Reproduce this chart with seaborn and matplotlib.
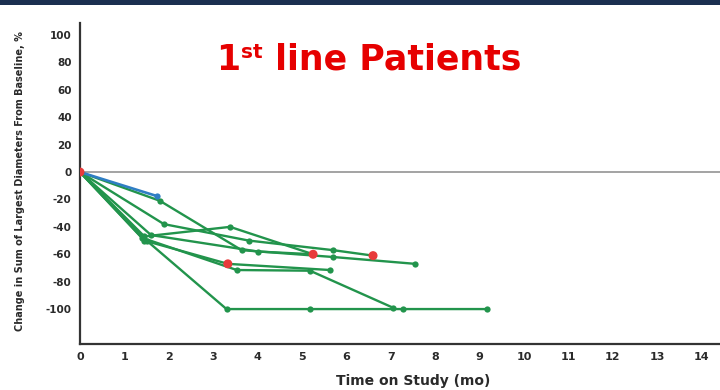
import matplotlib
matplotlib.use("Agg")
import matplotlib.pyplot as plt
from matplotlib.patches import Rectangle
import seaborn as sns
import pandas as pd

# ---------------- data ----------------
blue_months = [0, 1.73]
blue_change = [0, -17.5]

pa_months = [0, 1.80, 3.64, 5.70, 7.55]
pa_change = [0, -21, -57, -62, -67]
pb_months = [0, 1.89, 3.80, 5.70, 6.60]
pb_change = [0, -38, -50, -57, -61]
pc_months = [0, 1.45, 3.38, 5.25]
pc_change = [0, -47, -40, -60]
pd_months = [0, 1.60, 4.00, 5.25]
pd_change = [0, -46, -58, -60]
pe_months = [0, 1.45, 3.33, 5.63]
pe_change = [0, -50, -67, -71.5]
pf_months = [0, 1.40, 3.53, 5.18, 7.05]
pf_change = [0, -48, -71.5, -72, -99]
pg_months = [0, 1.50, 3.30, 5.18, 7.27, 9.16]
pg_change = [0, -50, -100, -100, -100, -100]

red_months = [0, 3.33, 5.25, 6.60]
red_change = [0, -67, -60, -61]

x_ticks = list(range(0, 15))
y_ticks = list(range(-100, 101, 20))

title_main = "1"
title_sup = "st"
title_rest = " line Patients"
x_label = "Time on Study (mo)"
y_label = "Change in Sum of Largest Diameters From Baseline, %"

# ---------------- build tables ----------------
green_series = {
    "A": (pa_months, pa_change), "B": (pb_months, pb_change),
    "C": (pc_months, pc_change), "D": (pd_months, pd_change),
    "E": (pe_months, pe_change), "F": (pf_months, pf_change),
    "G": (pg_months, pg_change),
}
rows = []
for pid, (ms, cs) in green_series.items():
    for m, c in zip(ms, cs):
        rows.append({"patient": pid, "month": m, "change": c})
df_green = pd.DataFrame(rows)
df_blue = pd.DataFrame({"patient": "blue", "month": blue_months, "change": blue_change})
df_red = pd.DataFrame({"month": red_months, "change": red_change})

# ---------------- style ----------------
sns.set_style("white")
plt.rcParams["font.family"] = ["DejaVu Sans"]
plt.rcParams["font.weight"] = "bold"
plt.rcParams["axes.unicode_minus"] = False

GREEN = "#22944c"
BLUE = "#2f7ec4"
RED = "#e83a3a"
TXT = "#2a2a2a"

W, H = 720, 390
fig = plt.figure(figsize=(W / 100, H / 100), dpi=100)
fig.patch.set_facecolor("white")

ax_left, ax_right, ax_top, ax_bottom = 80, 720, 23, 344
ax = fig.add_axes([ax_left / W, 1 - ax_bottom / H, (ax_right - ax_left) / W, (ax_bottom - ax_top) / H])
ax.set_facecolor("white")

ax.axhline(0, color="#a3a3a3", lw=1.4, zorder=1)

sns.lineplot(data=df_green, x="month", y="change", units="patient", estimator=None,
             sort=False, color=GREEN, lw=1.7, marker="o", markersize=4.5,
             markeredgewidth=0, legend=False, ax=ax, zorder=3)
sns.lineplot(data=df_blue, x="month", y="change", units="patient", estimator=None,
             sort=False, color=BLUE, lw=1.9, marker="o", markersize=4.5,
             markeredgewidth=0, legend=False, ax=ax, zorder=4)
sns.scatterplot(data=df_red, x="month", y="change", color=RED, s=42,
                edgecolor="none", legend=False, ax=ax, zorder=5)

ax.set_xlim(0, (ax_right - ax_left) / 44.4)
ax.set_ylim(-125.5, 108.8)
ax.set_xticks(x_ticks)
ax.set_yticks(y_ticks)
ax.set_xlabel("")
ax.set_ylabel("")

for s in ["top", "right"]:
    ax.spines[s].set_visible(False)
for s in ["left", "bottom"]:
    ax.spines[s].set_color("#333333")
    ax.spines[s].set_linewidth(1.6)
ax.tick_params(axis="both", direction="out", length=4, width=1.2, color="#333333",
               labelcolor=TXT, pad=2)
ax.tick_params(axis="x", labelsize=8)
ax.tick_params(axis="y", labelsize=7.5)

fig.text(20 / W, 1 - 181 / H, y_label, rotation=90, ha="center", va="center",
         fontsize=7, fontweight="bold", color=TXT)
fig.text(413 / W, 1 - 381 / H, x_label, ha="center", va="center",
         fontsize=10, fontweight="bold", color=TXT)

# title with superscript
fig.canvas.draw()
renderer = fig.canvas.get_renderer()
base_y = 1 - 70 / H
t1 = fig.text(216 / W, base_y, title_main, ha="left", va="baseline",
              fontsize=25, fontweight="bold", color="#e60000")
bb1 = t1.get_window_extent(renderer)
t2 = fig.text((bb1.x1 + 1) / W, 1 - 58 / H, title_sup, ha="left", va="baseline",
              fontsize=14.5, fontweight="bold", color="#e60000")
bb2 = t2.get_window_extent(renderer)
fig.text((bb2.x1) / W, base_y, title_rest, ha="left", va="baseline",
         fontsize=25, fontweight="bold", color="#e60000")

# top navy band
fig.patches.append(Rectangle((0, 1 - 5 / H), 1, 5 / H, transform=fig.transFigure,
                             facecolor="#1b2f50", edgecolor="none", zorder=10))

fig.savefig("out.png", dpi=100)
